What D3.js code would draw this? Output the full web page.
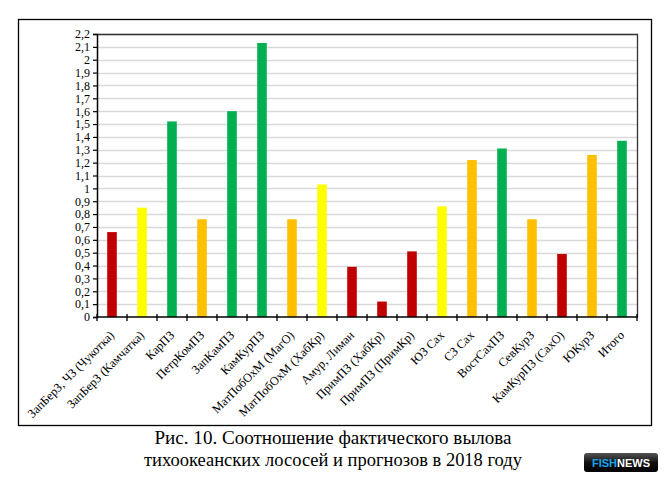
<!DOCTYPE html>
<html>
<head>
<meta charset="utf-8">
<script src="https://cdn.jsdelivr.net/npm/d3@7"></script>
<style>
  html, body { margin: 0; padding: 0; background: #fff; }
  svg { display: block; }
  .serif { font-family: "Liberation Serif", "Tinos", "Times New Roman", "DejaVu Serif", serif; }
  .sans { font-family: "Liberation Sans", Arial, "DejaVu Sans", sans-serif; }
</style>
</head>
<body>
<svg id="chart" width="668" height="482"></svg>
<script>
const categories = [
  "ЗапБерЗ, ЧЗ (Чукотка)", "ЗапБерЗ (Камчатка)", "КарПЗ", "ПетрКомПЗ", "ЗапКамПЗ",
  "КамКурПЗ", "МатПобОхМ (МагО)", "МатПобОхМ (ХабКр)", "Амур, Лиман", "ПримПЗ (ХабКр)",
  "ПримПЗ (ПримКр)", "ЮЗ Сах", "СЗ Сах", "ВостСахПЗ", "СевКурЗ", "КамКурПЗ (СахО)",
  "ЮКурЗ", "Итого"
];
const values = [0.66, 0.85, 1.52, 0.76, 1.60, 2.13, 0.76, 1.03, 0.39, 0.12,
                0.51, 0.86, 1.22, 1.31, 0.76, 0.49, 1.26, 1.37];
const colorGroups = ["red", "yellow", "green", "orange", "green", "green", "orange", "yellow", "red", "red",
                     "red", "yellow", "orange", "green", "orange", "red", "orange", "green"];
const yTicks = [0, 0.1, 0.2, 0.3, 0.4, 0.5, 0.6, 0.7, 0.8, 0.9, 1, 1.1,
                1.2, 1.3, 1.4, 1.5, 1.6, 1.7, 1.8, 1.9, 2, 2.1, 2.2];
const captionLines = ["Рис. 10. Соотношение фактического вылова",
                      "тихоокеанских лососей и прогнозов в 2018 году"];

const palette = { red: "#C00000", yellow: "#FFFF00", green: "#00B050", orange: "#FFC000" };

const svg = d3.select("#chart");
const L = 97, R = 637, T = 34, B = 317;

// outer frame
svg.append("rect").attr("x", 18.5).attr("y", 19.5).attr("width", 633).attr("height", 406)
  .attr("fill", "none").attr("stroke", "#000").attr("stroke-width", 1.3);

const y = d3.scaleLinear().domain([0, 2.2]).range([B, T]);
const x = d3.scaleBand().domain(categories).range([L, R]).paddingInner(0.68).paddingOuter(0.34);
const step = x.step();

// gridlines
svg.append("g").selectAll("line").data(yTicks.filter(d => d > 0)).join("line")
  .attr("x1", L).attr("x2", R)
  .attr("y1", d => Math.round(y(d)) + 0.5).attr("y2", d => Math.round(y(d)) + 0.5)
  .attr("stroke", "#d9d9d9").attr("stroke-width", 1.6);

// bars
svg.append("g").selectAll("rect").data(values).join("rect")
  .attr("x", (d, i) => x(categories[i]))
  .attr("width", x.bandwidth())
  .attr("y", d => y(d))
  .attr("height", d => y(0) - y(d))
  .attr("fill", (d, i) => palette[colorGroups[i]]);

// plot border (top & right)
svg.append("path")
  .attr("d", `M${L},${T + 0.5}H${R + 0.5}V${B}`)
  .attr("fill", "none").attr("stroke", "#333").attr("stroke-width", 1.3);

// y axis
const yAxis = d3.axisLeft(y).tickValues(yTicks).tickSize(4).tickPadding(3)
  .tickFormat(d => String(d).replace(".", ","));
const gy = svg.append("g").attr("transform", `translate(${L},0)`).call(yAxis)
  .attr("font-family", null).attr("font-size", null);
gy.select(".domain").attr("stroke", "#000").attr("stroke-width", 1.5);
gy.selectAll(".tick line").attr("stroke", "#000").attr("stroke-width", 1.2);
gy.selectAll("text").attr("class", "serif").style("font-size", "12px").attr("fill", "#000");

// x axis
const gx = svg.append("g").attr("transform", `translate(0,${B})`);
gx.append("line").attr("x1", L).attr("x2", R + 1).attr("y1", 0).attr("y2", 0)
  .attr("stroke", "#000").attr("stroke-width", 1.6);
const boundaries = categories.map(c => x(c) - (step - x.bandwidth()) / 2).concat([R]);
gx.selectAll("line.tk").data(boundaries).join("line").attr("class", "tk")
  .attr("x1", d => d).attr("x2", d => d).attr("y1", -3).attr("y2", 4)
  .attr("stroke", "#000").attr("stroke-width", 1.3);
gx.selectAll("text").data(categories).join("text")
  .attr("class", "serif")
  .attr("transform", c => `translate(${x(c) + x.bandwidth() / 2 + 3},${19}) rotate(-45)`)
  .attr("text-anchor", "end")
  .style("font-size", "12.3px").attr("fill", "#000")
  .text(c => c);

// caption
const capWidths = [357, 378];
svg.append("g").selectAll("text").data(captionLines).join("text")
  .attr("class", "serif")
  .attr("x", 333).attr("y", (d, i) => 444 + i * 22)
  .attr("text-anchor", "middle")
  .attr("textLength", (d, i) => capWidths[i])
  .attr("lengthAdjust", "spacingAndGlyphs")
  .style("font-size", "18.5px").attr("fill", "#000")
  .text(d => d);

// FISHNEWS badge
const defs = svg.append("defs");
const grad = defs.append("linearGradient").attr("id", "fng").attr("x1", 0).attr("y1", 0).attr("x2", 0).attr("y2", 1);
grad.append("stop").attr("offset", "0%").attr("stop-color", "#555");
grad.append("stop").attr("offset", "50%").attr("stop-color", "#111");
grad.append("stop").attr("offset", "100%").attr("stop-color", "#000");
svg.append("rect").attr("x", 584).attr("y", 453).attr("width", 74).attr("height", 19).attr("rx", 3)
  .attr("fill", "url(#fng)");
const badge = svg.append("text").attr("class", "sans").attr("x", 621).attr("y", 467).attr("text-anchor", "middle")
  .attr("font-weight", "bold").style("font-size", "11px");
badge.append("tspan").attr("fill", "#1AA3E8").text("FISH");
badge.append("tspan").attr("fill", "#fff").text("NEWS");
</script>
</body>
</html>
